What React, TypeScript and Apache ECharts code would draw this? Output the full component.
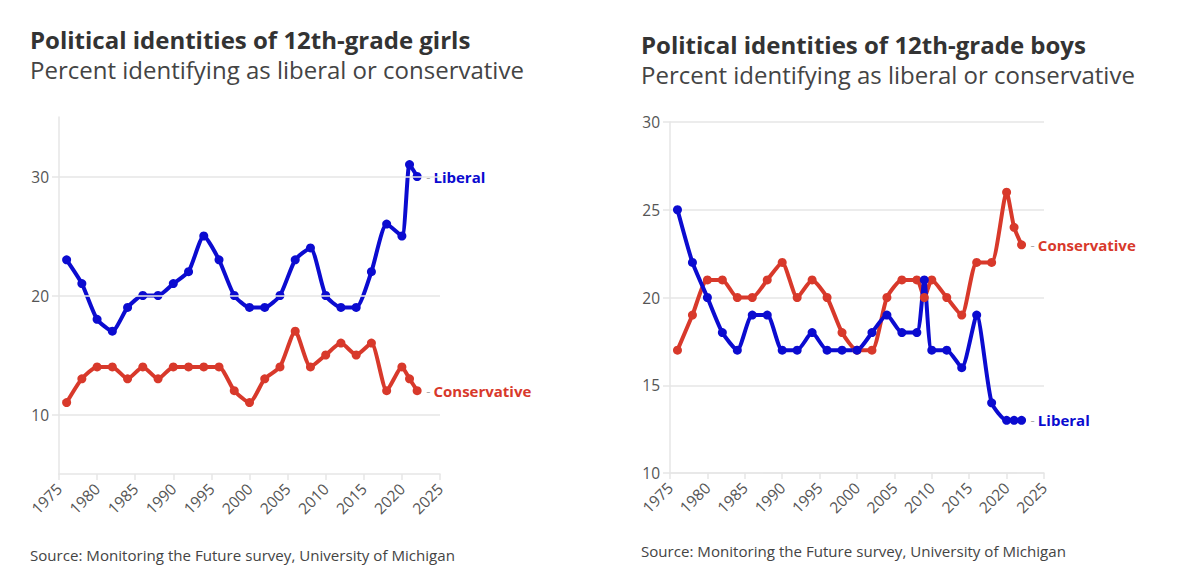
import React, { useEffect, useRef } from "react";
import * as echarts from "echarts";

const girlsYears = [1976, 1978, 1980, 1982, 1984, 1986, 1988, 1990, 1992, 1994, 1996, 1998, 2000, 2002, 2004, 2006, 2008, 2010, 2012, 2014, 2016, 2018, 2020, 2021, 2022];
const girlsLiberal = [23, 21, 18, 17, 19, 20, 20, 21, 22, 25, 23, 20, 19, 19, 20, 23, 24, 20, 19, 19, 22, 26, 25, 31, 30];
const girlsConservative = [11, 13, 14, 14, 13, 14, 13, 14, 14, 14, 14, 12, 11, 13, 14, 17, 14, 15, 16, 15, 16, 12, 14, 13, 12];

const boysYears = [1976, 1978, 1980, 1982, 1984, 1986, 1988, 1990, 1992, 1994, 1996, 1998, 2000, 2002, 2004, 2006, 2008, 2009, 2010, 2012, 2014, 2016, 2018, 2020, 2021, 2022];
const boysLiberal = [25, 22, 20, 18, 17, 19, 19, 17, 17, 18, 17, 17, 17, 18, 19, 18, 18, 21, 17, 17, 16, 19, 14, 13, 13, 13];
const boysConservative = [17, 19, 21, 21, 20, 20, 21, 22, 20, 21, 20, 18, 17, 17, 20, 21, 21, 20, 21, 20, 19, 22, 22, 26, 24, 23];

const girlsYTicks = [10, 20, 30];

const titles = ["Political identities of 12th-grade girls", "Political identities of 12th-grade boys"];
const subtitle = "Percent identifying as liberal or conservative";
const source = "Source: Monitoring the Future survey, University of Michigan";

const BLUE = "#0b0bd0";
const RED = "#d8392b";
const FONT = "Open Sans";

function pairs(xs: number[], ys: number[]) {
  return xs.map((x, i) => [x, ys[i]]);
}

function lineSeries(name: string, data: number[][], color: string, idx: number) {
  return {
    type: "line",
    name,
    xAxisIndex: idx,
    yAxisIndex: idx,
    data,
    smooth: 0.2,
    symbol: "circle",
    symbolSize: 9,
    lineStyle: { color, width: 4 },
    itemStyle: { color },
    z: 3,
    endLabel: {
      show: true,
      distance: 9,
      backgroundColor: "#fff",
      padding: [1, 2, 1, 0],
      formatter: `{d|-} {n|${name}}`,
      rich: {
        d: { color: "#aaaaaa", fontSize: 13, fontFamily: FONT },
        n: { color, fontSize: 15, fontWeight: "bold", fontFamily: FONT },
      },
    },
  };
}

export default function App() {
  const ref = useRef<HTMLDivElement>(null);
  useEffect(() => {
    if (!ref.current) return;
    const chart = echarts.init(ref.current, null, { renderer: "svg" });
    const axisColor = "#e6e6e6";
    const labelStyle = { color: "#555", fontSize: 15, fontFamily: FONT };
    const xAxisBase = {
      type: "value",
      min: 1975,
      max: 2025,
      interval: 5,
      axisLine: { show: true, lineStyle: { color: axisColor, width: 1.5 } },
      axisTick: { show: true, length: 6, lineStyle: { color: axisColor, width: 1.5 } },
      axisLabel: { ...labelStyle, fontSize: 15.5, rotate: 45, margin: 12, formatter: (v: number) => String(v) },
      splitLine: { show: false },
    };
    const titleStyle = { fontSize: 24, fontWeight: "bold", color: "#333", fontFamily: FONT };
    const subStyle = { fontSize: 24, color: "#444", fontFamily: FONT };
    const srcStyle = { fontSize: 15.1, fontWeight: "normal", color: "#444", fontFamily: FONT };
    chart.setOption({
      animation: false,
      textStyle: { fontFamily: FONT },
      title: [
        { text: titles[0], subtext: subtitle, left: 30, top: 27, padding: 0, itemGap: 6, textStyle: titleStyle, subtextStyle: subStyle },
        { text: titles[1], subtext: subtitle, left: 641, top: 32, padding: 0, itemGap: 6, textStyle: titleStyle, subtextStyle: subStyle },
        { text: source, left: 30, top: 547, padding: 0, textStyle: srcStyle },
        { text: source, left: 641, top: 543, padding: 0, textStyle: srcStyle },
      ],
      grid: [
        { left: 59, top: 117, width: 381, height: 357, containLabel: false },
        { left: 670, top: 122, width: 374, height: 351, containLabel: false },
      ],
      xAxis: [
        { ...xAxisBase, gridIndex: 0 },
        { ...xAxisBase, gridIndex: 1 },
      ],
      yAxis: [
        {
          type: "value",
          gridIndex: 0,
          min: 5,
          max: 35,
          interval: 5,
          axisLine: { show: true, lineStyle: { color: axisColor, width: 1.5 } },
          axisTick: { show: true, length: 7, customValues: girlsYTicks, lineStyle: { color: axisColor, width: 1.5 } },
          axisLabel: {
            ...labelStyle,
            fontSize: 15.5,
            margin: 10,
            customValues: girlsYTicks,
            formatter: (v: number) => (girlsYTicks.includes(v) ? String(v) : ""),
          },
          splitLine: { show: false },
        },
        {
          type: "value",
          gridIndex: 1,
          min: 10,
          max: 30,
          interval: 5,
          axisLine: { show: true, lineStyle: { color: axisColor, width: 1.5 } },
          axisTick: { show: true, length: 7, lineStyle: { color: axisColor, width: 1.5 } },
          axisLabel: { ...labelStyle, fontSize: 15.5, margin: 10 },
          splitLine: { show: true, lineStyle: { color: axisColor, width: 1.5 } },
        },
      ],
      series: [
        {
          type: "line",
          xAxisIndex: 0,
          yAxisIndex: 0,
          data: [],
          z: 1,
          silent: true,
          markLine: {
            silent: true,
            symbol: ["none", "none"],
            label: { show: false },
            lineStyle: { color: axisColor, width: 1.5, type: "solid" },
            data: girlsYTicks.map((v) => ({ yAxis: v })),
          },
        },
        lineSeries("Liberal", pairs(girlsYears, girlsLiberal), BLUE, 0),
        lineSeries("Conservative", pairs(girlsYears, girlsConservative), RED, 0),
        lineSeries("Conservative", pairs(boysYears, boysConservative), RED, 1),
        lineSeries("Liberal", pairs(boysYears, boysLiberal), BLUE, 1),
      ],
    });
    return () => chart.dispose();
  }, []);
  return (
    <div
      ref={ref}
      style={{ position: "absolute", left: 0, top: 0, width: 1200, height: 579, background: "#fff" }}
    />
  );
}
